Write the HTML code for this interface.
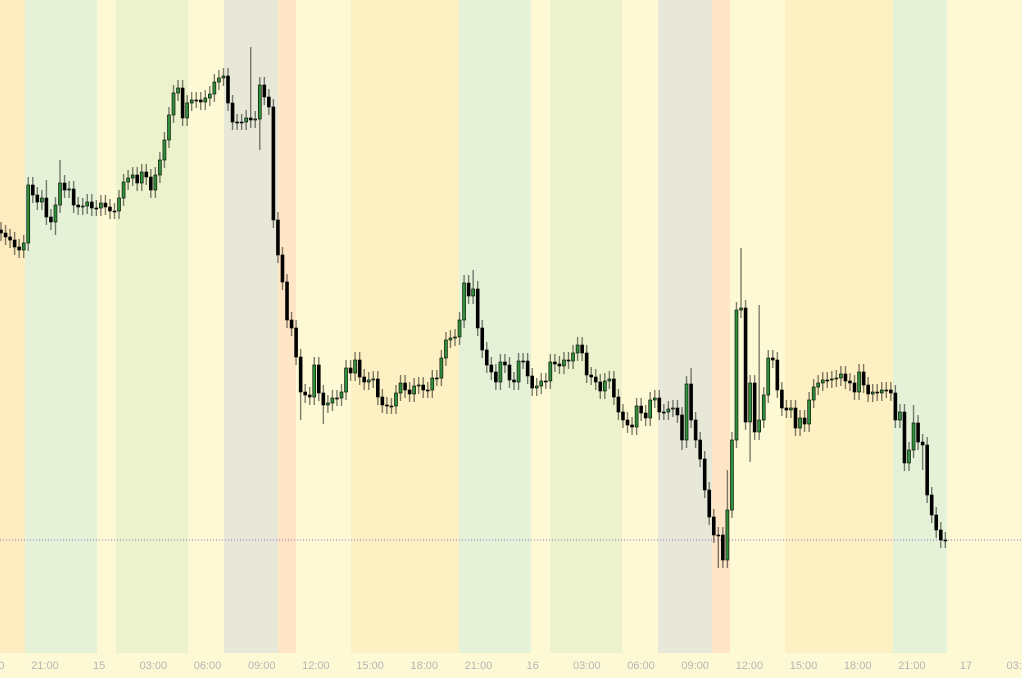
<!DOCTYPE html>
<html><head><meta charset="utf-8"><style>
html,body{margin:0;padding:0;background:#fef9d5;}
svg{display:block;font-family:"Liberation Sans",sans-serif;}
</style></head><body>
<svg id="chart" width="1022" height="678" viewBox="0 0 1022 678" xmlns="http://www.w3.org/2000/svg">
<rect x="0" y="0" width="1022" height="678" fill="#fef9d5"/>
<g id="bands"></g>
<line x1="0" y1="540" x2="1022" y2="540" stroke="#9a6ad0" stroke-width="1" stroke-dasharray="1,2"/>
<g id="candles"></g>
<g id="xaxis"></g>
</svg>
<script>
// session band data: [startPx, endPx, colour]
const bandStarts = [0,25,97,116,188,224,278,296,351,459,531,550,622,658,712,730,785,893,947];
const bandEnds   = [25,97,116,188,224,278,296,351,459,531,550,622,658,712,730,785,893,947,1022];
const bandColors = ["#fdecc0","#e5f2d8","#fef9d5","#ecf3cc","#fef9d5","#e8e8d8","#fde5c6","#fef9d5","#fdf0c2","#e5f2d8","#fef9d5","#ecf3cc","#fef9d5","#e8e8d8","#fde5c6","#fef9d5","#fdf0c2","#e5f2d8","#fef9d5"];

const tickLabels = ["18:00","21:00","15","03:00","06:00","09:00","12:00","15:00","18:00","21:00","16","03:00","06:00","09:00","12:00","15:00","18:00","21:00","17","03:00"];
const tickHours  = [-3,0,3,6,9,12,15,18,21,24,27,30,33,36,39,42,45,48,51,54];

const closes = [367,363,360,353,350,357,
415,405,398,402,383,378,395,417,410,411,
395,393,394,398,392,392,397,393,389,389,
402,418,422,425,417,428,423,410,425,440,
460,485,507,512,482,497,500,500,498,502,
506,518,522,524,497,478,478,478,482,480,
481,515,503,493,380,345,318,280,272,243,
208,205,203,235,207,195,197,202,202,208,
232,227,240,223,218,220,221,203,195,194,
194,207,217,210,206,214,215,210,210,222,
222,242,260,262,263,280,317,304,311,272,
250,235,228,218,238,235,220,218,239,239,
224,212,214,219,219,238,236,234,240,239,
247,255,247,225,223,218,209,219,221,203,
188,180,175,173,194,187,182,200,202,188,
188,191,192,185,160,216,180,160,141,110,
83,65,65,40,90,160,290,292,178,217,
168,180,205,242,240,210,192,190,192,172,
182,176,200,213,217,220,220,221,222,226,
219,217,208,228,215,206,208,207,210,210,
207,180,188,137,150,177,158,155,105,85,
70,60,60];
const firstOpen = 370;
const highIdx = [13,55,163,152,160,104,201,10,59,167];
const highVal = [440,553,352,232,130,330,195,420,500,295];
const lowIdx = [57,165,158,71,66,203,150,12];
const lowVal = [450,138,32,176,180,130,150,365];
const wickPad = 8;

// scales
const xStep = 4.54, x0 = 1;
const xScale = i => x0 + i * xStep;
const yScale = p => 600 - p;
const hourPx = 18.06, hour0Px = 45;
const tScale = h => hour0Px + h * hourPx;

const NS = "http://www.w3.org/2000/svg";
const bandsG = document.getElementById('bands');
for (let i = 0; i < bandStarts.length; i++) {
  const r = document.createElementNS(NS, 'rect');
  r.setAttribute('x', bandStarts[i]); r.setAttribute('y', 0);
  r.setAttribute('width', bandEnds[i] - bandStarts[i]); r.setAttribute('height', 653);
  r.setAttribute('fill', bandColors[i]);
  
  
  bandsG.appendChild(r);
}

const axG = document.getElementById('xaxis');
for (let i = 0; i < tickLabels.length; i++) {
  const t = document.createElementNS(NS, 'text');
  t.setAttribute('x', tScale(tickHours[i])); t.setAttribute('y', 669);
  t.setAttribute('text-anchor', 'middle'); t.setAttribute('font-size', '11');
  t.setAttribute('fill', '#b4b4b4');
  t.textContent = tickLabels[i];
  
  
  axG.appendChild(t);
}

const cG = document.getElementById('candles');
for (let i = 0; i < closes.length; i++) {
  const o = i === 0 ? firstOpen : closes[i - 1];
  const c = closes[i];
  let hi = Math.max(o, c) + wickPad, lo = Math.min(o, c) - wickPad;
  const hk = highIdx.indexOf(i); if (hk >= 0) hi = Math.max(hi, highVal[hk]);
  const lk = lowIdx.indexOf(i); if (lk >= 0) lo = Math.min(lo, lowVal[lk]);
  const x = xScale(i);
  const w = document.createElementNS(NS, 'line');
  w.setAttribute('x1', x); w.setAttribute('x2', x);
  w.setAttribute('y1', yScale(hi)); w.setAttribute('y2', yScale(lo));
  w.setAttribute('stroke', 'rgba(0,0,0,0.5)'); w.setAttribute('stroke-width', '1.4');
  
  
  cG.appendChild(w);
  const b = document.createElementNS(NS, 'rect');
  const top = yScale(Math.max(o, c)), bot = yScale(Math.min(o, c));
  b.setAttribute('x', x - 1.5); b.setAttribute('width', 3);
  b.setAttribute('y', top); b.setAttribute('height', Math.max(1, bot - top));
  const up = c > o;
  b.setAttribute('fill', up ? '#2f8f3a' : '#000');
  b.setAttribute('stroke', '#000'); b.setAttribute('stroke-width', '0.6');
  
  
  cG.appendChild(b);
}
</script>
</body></html>
